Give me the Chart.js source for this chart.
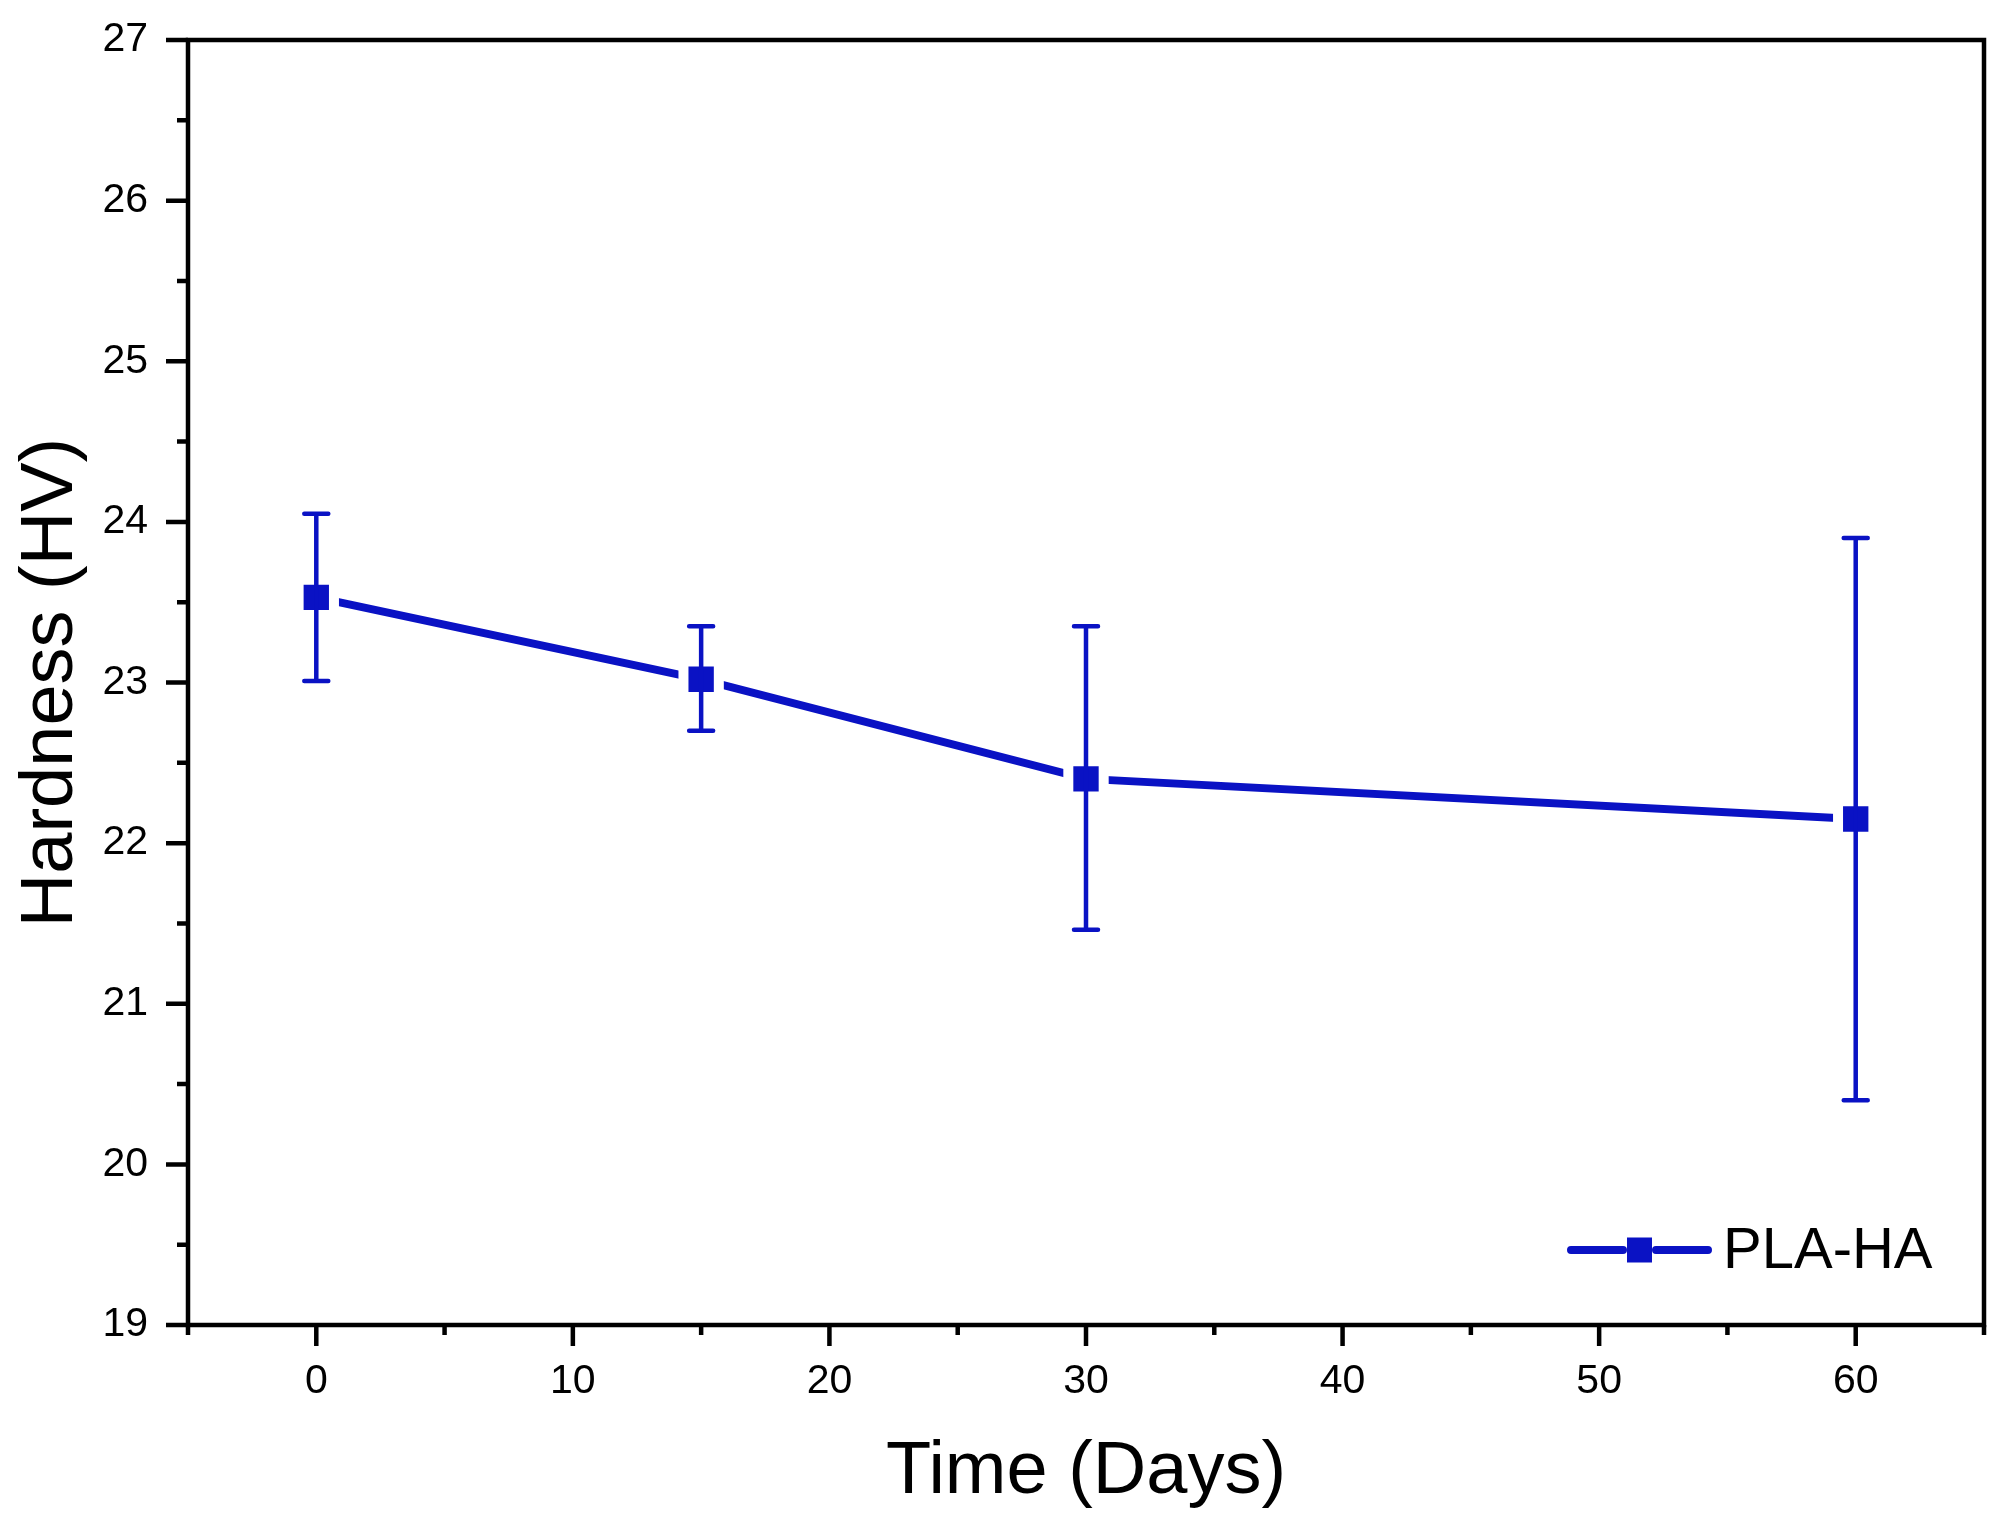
<!DOCTYPE html>
<html>
<head>
<meta charset="utf-8">
<title>Hardness vs Time</title>
<script src="https://cdn.jsdelivr.net/npm/chart.js@4.4.1/dist/chart.umd.min.js"></script>
<style>
  html, body { margin: 0; padding: 0; background: #fff; overflow: hidden; }
  #wrap { width: 2003px; height: 1535px; }
  #hardness-chart { display: block; }
</style>
</head>
<body>
<div id="wrap"><canvas id="hardness-chart" width="2003" height="1535"></canvas></div>
<script>
// data
const days = [0, 15, 30, 60];
const hardness = [23.53, 23.02, 22.40, 22.15];
const errUpper = [24.05, 23.35, 23.35, 23.90];
const errLower = [23.01, 22.70, 21.46, 20.40];
const seriesName = "PLA-HA";
const xTickLabels = [0, 10, 20, 30, 40, 50, 60];
const yTickLabels = [19, 20, 21, 22, 23, 24, 25, 26, 27];

const BLUE = "#0a12c4";
const FONT = "'Liberation Sans', Arial, sans-serif";

// error bars drawn with the chart's own scales
const errorBars = {
  id: "errorBars",
  afterDatasetsDraw(chart) {
    const { ctx, scales: { x, y } } = chart;
    ctx.save();
    ctx.strokeStyle = BLUE;
    ctx.lineWidth = 4.5;
    ctx.lineCap = "round";
    days.forEach((d, i) => {
      const px = x.getPixelForValue(d);
      const top = y.getPixelForValue(errUpper[i]);
      const bot = y.getPixelForValue(errLower[i]);
      ctx.beginPath();
      ctx.moveTo(px, top); ctx.lineTo(px, bot);
      ctx.moveTo(px - 12, top); ctx.lineTo(px + 12, top);
      ctx.moveTo(px - 12, bot); ctx.lineTo(px + 12, bot);
      ctx.stroke();
    });
    ctx.restore();
  }
};

// box frame plus outward major / minor ticks
const frame = {
  id: "frame",
  afterDraw(chart) {
    const { ctx, chartArea: a, scales: { x, y } } = chart;
    ctx.save();
    ctx.strokeStyle = "#000";
    ctx.lineWidth = 4.5;
    ctx.strokeRect(a.left, a.top, a.right - a.left, a.bottom - a.top);
    ctx.beginPath();
    y.ticks.forEach(t => {
      const py = y.getPixelForValue(t.value);
      const len = Number.isInteger(t.value) ? 22 : 11;
      ctx.moveTo(a.left - len, py); ctx.lineTo(a.left, py);
    });
    x.ticks.forEach(t => {
      const px = x.getPixelForValue(t.value);
      const len = t.value % 10 === 0 ? 21 : 10;
      ctx.moveTo(px, a.bottom); ctx.lineTo(px, a.bottom + len);
    });
    ctx.stroke();
    ctx.restore();
  }
};

// legend sitting inside the plot, lower right
const insideLegend = {
  id: "insideLegend",
  afterDraw(chart) {
    const { ctx, chartArea: a } = chart;
    const cy = a.bottom - 75;
    const x0 = a.right - 413;
    ctx.save();
    ctx.strokeStyle = BLUE;
    ctx.lineWidth = 8;
    ctx.lineCap = "round";
    ctx.beginPath();
    ctx.moveTo(x0, cy); ctx.lineTo(x0 + 52, cy);
    ctx.moveTo(x0 + 85, cy); ctx.lineTo(x0 + 137, cy);
    ctx.stroke();
    ctx.fillStyle = BLUE;
    ctx.fillRect(x0 + 56, cy - 12.5, 25, 25);
    ctx.fillStyle = "#000";
    ctx.font = "58px " + FONT;
    ctx.textAlign = "left";
    ctx.textBaseline = "middle";
    ctx.fillText(seriesName, x0 + 152, cy + 2);
    ctx.restore();
  }
};

new Chart(document.getElementById("hardness-chart"), {
  type: "line",
  data: {
    datasets: [{
      label: seriesName,
      data: days.map((d, i) => ({ x: d, y: hardness[i] })),
      borderColor: BLUE,
      borderWidth: 8,
      borderCapStyle: "round",
      pointStyle: "rect",
      pointRadius: 25,
      pointBackgroundColor: BLUE,
      pointBorderColor: "#fff",
      pointBorderWidth: 10,
      fill: false,
      tension: 0,
    }],
  },
  options: {
    responsive: true,
    maintainAspectRatio: false,
    animation: false,
    events: [],
    layout: { autoPadding: false, padding: { top: 40, right: 19, left: 0, bottom: 0 } },
    plugins: { legend: { display: false }, tooltip: { enabled: false } },
    scales: {
      x: {
        type: "linear",
        min: -5,
        max: 65,
        afterBuildTicks(scale) {
          const t = [];
          for (let v = -5; v <= 65; v += 5) t.push({ value: v });
          scale.ticks = t;
        },
        afterFit(scale) {
          scale.height = 210;
          scale.paddingLeft = 0;
          scale.paddingRight = 0;
        },
        grid: { display: false, drawTicks: false },
        border: { display: false },
        ticks: {
          padding: 32,
          color: "#000",
          font: { family: FONT, size: 41 },
          maxRotation: 0,
          autoSkip: false,
          callback: v => (xTickLabels.includes(v) ? String(v) : ""),
        },
        title: {
          display: true,
          text: "Time (Days)",
          color: "#000",
          font: { family: FONT, size: 74 },
          padding: { top: 0, bottom: 18 },
        },
      },
      y: {
        min: 19,
        max: 27,
        afterBuildTicks(scale) {
          const t = [];
          for (let v = 19; v <= 27; v += 0.5) t.push({ value: v });
          scale.ticks = t;
        },
        afterFit(scale) {
          scale.width = 188;
          scale.paddingTop = 0;
          scale.paddingBottom = 0;
        },
        grid: { display: false, drawTicks: false },
        border: { display: false },
        ticks: {
          padding: 40,
          color: "#000",
          font: { family: FONT, size: 41 },
          autoSkip: false,
          callback: v => (yTickLabels.includes(v) ? String(v) : ""),
        },
        title: {
          display: true,
          text: "Hardness (HV)",
          color: "#000",
          font: { family: FONT, size: 74 },
          padding: { top: 7, bottom: 0 },
        },
      },
    },
  },
  plugins: [errorBars, frame, insideLegend],
});
</script>
</body>
</html>
